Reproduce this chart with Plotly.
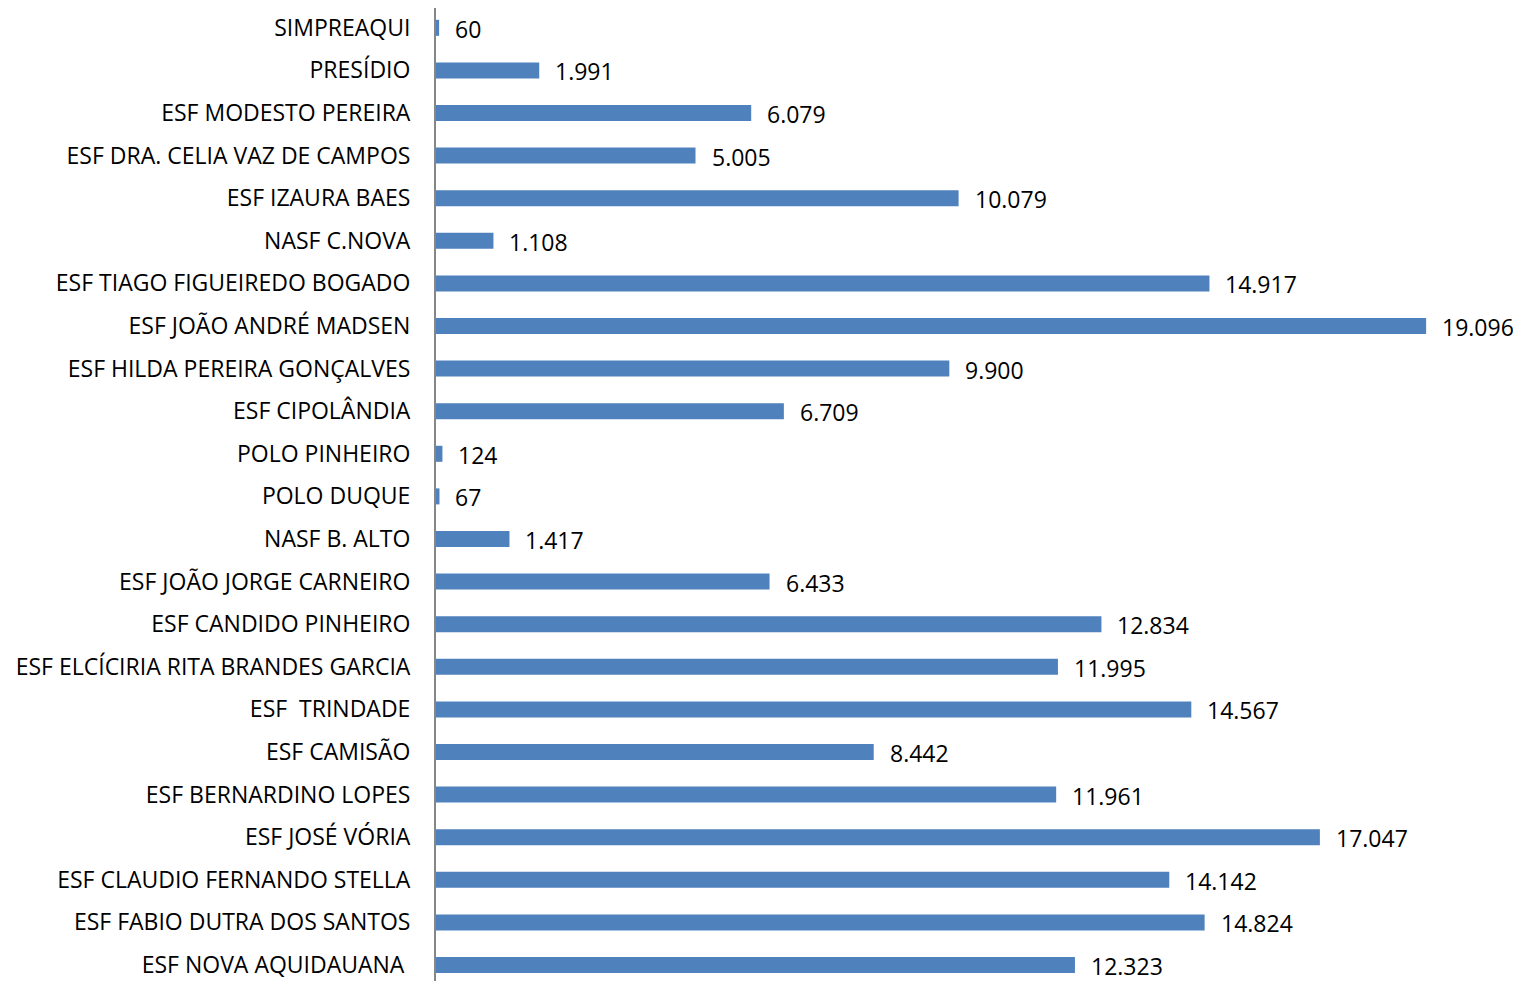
import plotly.graph_objects as go

categories = [
    "SIMPREAQUI",
    "PRESÍDIO",
    "ESF MODESTO PEREIRA",
    "ESF DRA. CELIA VAZ DE CAMPOS",
    "ESF IZAURA BAES",
    "NASF C.NOVA",
    "ESF TIAGO FIGUEIREDO BOGADO",
    "ESF JOÃO ANDRÉ MADSEN",
    "ESF HILDA PEREIRA GONÇALVES",
    "ESF CIPOLÂNDIA",
    "POLO PINHEIRO",
    "POLO DUQUE",
    "NASF B. ALTO",
    "ESF JOÃO JORGE CARNEIRO",
    "ESF CANDIDO PINHEIRO",
    "ESF ELCÍCIRIA RITA BRANDES GARCIA",
    "ESF \u00a0TRINDADE",
    "ESF CAMISÃO",
    "ESF BERNARDINO LOPES",
    "ESF JOSÉ VÓRIA",
    "ESF CLAUDIO FERNANDO STELLA",
    "ESF FABIO DUTRA DOS SANTOS",
    "ESF NOVA AQUIDAUANA\u00a0",
]
values = [60, 1991, 6079, 5005, 10079, 1108, 14917, 19096, 9900, 6709, 124, 67,
          1417, 6433, 12834, 11995, 14567, 8442, 11961, 17047, 14142, 14824, 12323]

def fmt(v):
    return f"{v:,}".replace(",", ".")

FONT = "Open Sans"
FS = 23
fig = go.Figure()
fig.add_trace(go.Bar(
    x=values, y=categories, orientation="h",
    marker=dict(color="#4F81BD", line=dict(width=0)),
    hoverinfo="x+y",
))
for c, v in zip(categories, values):
    fig.add_annotation(x=v, y=c, text=fmt(v), showarrow=False, xanchor="left",
                       xshift=14, yshift=-1,
                       font=dict(family=FONT, size=FS, color="#000000"))

fig.update_layout(
    width=1513, height=973,
    margin=dict(l=428, r=48, t=0, b=0),
    plot_bgcolor="white", paper_bgcolor="white",
    bargap=0.624,
    showlegend=False,
    font=dict(family=FONT, size=FS, color="#000000"),
    xaxis=dict(range=[0, 20000], visible=False, showgrid=False, zeroline=False, fixedrange=True),
    yaxis=dict(type="category", categoryorder="array", categoryarray=categories,
               range=[22.376, -0.465], showline=True, linecolor="#868686", linewidth=2,
               ticks="", showgrid=False, zeroline=False, ticklabelstandoff=19,
               tickfont=dict(family=FONT, size=FS, color="#000000")),
)
fig.write_html("out.html")
